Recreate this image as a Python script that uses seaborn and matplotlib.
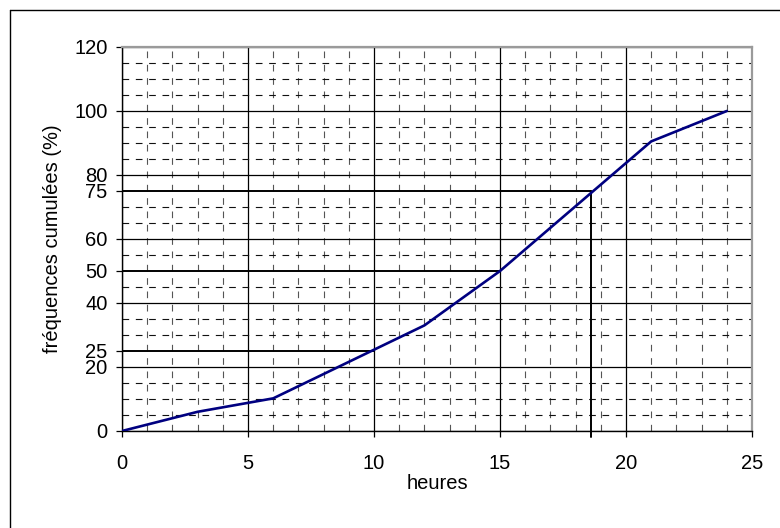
import matplotlib
matplotlib.use("Agg")
import matplotlib.pyplot as plt
import numpy as np
import pandas as pd
import seaborn as sns
from matplotlib.lines import Line2D

# cumulative frequency curve
hours = [0, 3, 6, 12, 15, 21, 24]
cum_freq = [0, 6, 10.2, 33, 50, 90.5, 100]

# quartile guide lines
quart_levels = [25, 50, 75]
quart_hours = [10, 15, 18.6]

x_major = [0, 5, 10, 15, 20, 25]
y_major = [0, 20, 40, 60, 80, 100, 120]
y_labels = [0, 20, 25, 40, 50, 60, 75, 80, 100, 120]

sns.set_style("white")
plt.rcParams["font.family"] = ["Liberation Sans", "DejaVu Sans"]
plt.rcParams["font.size"] = 14.5
plt.rcParams["text.color"] = "black"
plt.rcParams["axes.labelcolor"] = "black"
plt.rcParams["xtick.color"] = "black"
plt.rcParams["ytick.color"] = "black"

fig = plt.figure(figsize=(7.8, 5.28), dpi=100)
ax = fig.add_axes([122 / 780, 97 / 528, 630 / 780, 384 / 528])

df = pd.DataFrame({"heures": hours, "freq": cum_freq})

# grid
ax.set_xticks(np.arange(0, 26, 1), minor=True)
ax.set_yticks(np.arange(0, 121, 5), minor=True)
ax.grid(which="minor", axis="x", color="#555555", linestyle=(0, (6, 6)), linewidth=0.8)
ax.grid(which="minor", axis="y", color="#111111", linestyle=(0, (6, 6)), linewidth=0.8)
ax.grid(which="major", color="black", linestyle="-", linewidth=0.9)
ax.set_axisbelow(True)

sns.lineplot(data=df, x="heures", y="freq", color="#000080", linewidth=1.9, ax=ax, zorder=5)

for lvl, h in zip(quart_levels, quart_hours):
    ax.plot([0, h], [lvl, lvl], color="black", linewidth=1.4, zorder=4)
ax.plot([quart_hours[-1], quart_hours[-1]], [quart_levels[-1], -2], color="black",
        linewidth=1.4, zorder=4, clip_on=False)

ax.set_xlim(0, 25)
ax.set_ylim(0, 120)
ax.set_xticks(x_major)
ax.set_yticks(y_labels)
ax.set_yticklabels([str(v) for v in y_labels])

for tick, val in zip(ax.yaxis.get_major_ticks(), y_labels):
    if val not in y_major:
        tick.gridline.set_visible(False)
        tick.tick1line.set_visible(False)

ax.tick_params(axis="both", which="major", direction="out", length=4.3, width=0.9,
               color="black", labelcolor="black", labelsize=14.5)
ax.tick_params(axis="x", pad=12)
ax.tick_params(axis="y", pad=6)
ax.tick_params(which="minor", length=0)
ax.tick_params(left=True, bottom=True)

ax.set_xlabel("heures", fontsize=14.5, labelpad=1, color="black")
ax.set_ylabel("fréquences cumulées (%)", fontsize=14.5, labelpad=9, color="black")

for side in ["left", "bottom"]:
    ax.spines[side].set_color("black")
    ax.spines[side].set_linewidth(1.0)
for side in ["top", "right"]:
    ax.spines[side].set_color("#9a9a9a")
    ax.spines[side].set_linewidth(1.6)

# outer frame (only top/left edges fall inside the image)
fig.add_artist(Line2D([10 / 780, 10 / 780], [0, 1 - 10 / 528], color="black", linewidth=1.0))
fig.add_artist(Line2D([10 / 780, 1], [1 - 10 / 528, 1 - 10 / 528], color="black", linewidth=1.0))

fig.savefig("out.png", dpi=100)
